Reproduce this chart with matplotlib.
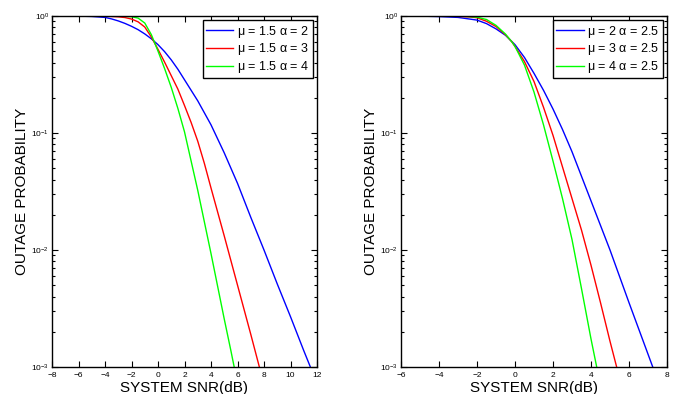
import numpy as np
import matplotlib
matplotlib.use("Agg")
import matplotlib.pyplot as plt
from matplotlib.ticker import LogLocator, FixedLocator

plt.rcParams['font.family'] = ['Liberation Sans', 'DejaVu Sans']
plt.rcParams['mathtext.fontset'] = 'custom'
plt.rcParams['mathtext.rm'] = 'Liberation Sans'

# ---------------- Left panel data (mu = 1.5, alpha varies) ----------------
# values given as -log10(outage probability)
left_x_blue = [-8, -6, -5, -4, -3.5, -3, -2.5, -2, -1.5, -1, -0.5, 0, 0.5, 1, 1.5, 2,
               3, 4, 5, 6, 7, 8, 9, 10, 11, 11.5]
left_dec_blue = [0.0, 0.001, 0.004, 0.012, 0.025, 0.042, 0.063, 0.088, 0.117, 0.153,
                 0.195, 0.245, 0.305, 0.375, 0.455, 0.545, 0.725, 0.93, 1.17, 1.43, 1.72,
                 2.0, 2.29, 2.57, 2.86, 3.0]
left_x_red = [-8, -6, -5, -4, -3.5, -3, -2.5, -2, -1.5, -1, -0.5, 0, 0.5, 1, 1.5, 2, 2.5,
              3, 3.5, 4, 5, 6, 7, 7.65]
left_dec_red = [0.0, 0.0, 0.0005, 0.002, 0.004, 0.007, 0.013, 0.026, 0.05, 0.094, 0.18,
                0.285, 0.395, 0.51, 0.625, 0.765, 0.91, 1.07, 1.26, 1.47, 1.88, 2.30,
                2.72, 3.0]
left_x_green = [-8, -5, -4, -3, -2.5, -2, -1.5, -1, -0.5, 0, 0.5, 1, 1.5, 2, 2.5, 3, 3.5,
                4, 4.5, 5, 5.5, 5.75]
left_dec_green = [0.0, 0.0, 0.0002, 0.001, 0.003, 0.006, 0.018, 0.06, 0.16, 0.30, 0.45,
                  0.61, 0.79, 0.99, 1.24, 1.49, 1.76, 2.03, 2.31, 2.59, 2.86, 3.0]
left_labels = [r'$\mathregular{\mu}$ = 1.5 $\mathregular{\alpha}$ = 2',
               r'$\mathregular{\mu}$ = 1.5 $\mathregular{\alpha}$ = 3',
               r'$\mathregular{\mu}$ = 1.5 $\mathregular{\alpha}$ = 4']
left_xticks = [-8, -6, -4, -2, 0, 2, 4, 6, 8, 10, 12]

# ---------------- Right panel data (alpha = 2.5, mu varies) ----------------
right_x_blue = [-6, -5, -4, -3, -2, -1.5, -1, -0.5, 0, 0.5, 1, 1.5, 2, 2.5, 3, 3.5, 4,
                4.5, 5, 6, 7, 7.25]
right_dec_blue = [0.0, 0.001, 0.005, 0.012, 0.035, 0.065, 0.11, 0.165, 0.245, 0.355, 0.49,
                  0.635, 0.795, 0.97, 1.16, 1.37, 1.58, 1.79, 2.0, 2.45, 2.89, 3.0]
right_x_red = [-6, -4, -3, -2.37, -2, -1.5, -1, -0.5, -0.17, 0, 0.5, 1, 1.5, 2, 2.5, 3,
               3.5, 4, 4.5, 5, 5.35]
right_dec_red = [0.0, 0.001, 0.003, 0.008, 0.015, 0.045, 0.09, 0.16, 0.22, 0.26, 0.39,
                 0.56, 0.78, 1.02, 1.29, 1.56, 1.83, 2.13, 2.45, 2.78, 3.0]
right_x_green = [-6, -4, -3, -2.5, -2, -1.5, -1, -0.5, -0.17, 0, 0.5, 1, 1.5, 2, 2.5, 3,
                 3.5, 4, 4.3]
right_dec_green = [0.0, 0.0005, 0.002, 0.004, 0.01, 0.03, 0.08, 0.155, 0.22, 0.26, 0.42,
                   0.65, 0.93, 1.24, 1.56, 1.91, 2.33, 2.76, 3.0]
right_labels = [r'$\mathregular{\mu}$ = 2 $\mathregular{\alpha}$ = 2.5',
                r'$\mathregular{\mu}$ = 3 $\mathregular{\alpha}$ = 2.5',
                r'$\mathregular{\mu}$ = 4 $\mathregular{\alpha}$ = 2.5']
right_xticks = [-6, -4, -2, 0, 2, 4, 6, 8]

colors = ['#0000ff', '#ff0000', '#00ff00']

fig = plt.figure(figsize=(6.78, 3.94), dpi=100)
ax1 = fig.add_axes([52/678, 27/394, 265/678, 351/394])
ax2 = fig.add_axes([401/678, 27/394, 266/678, 351/394])


def draw(ax, series, labels, xticks):
    for (x, d), c, lab in zip(series, colors, labels):
        ax.semilogy(x, 10.0 ** (-np.array(d)), color=c, lw=1.0, label=lab)
    ax.set_xlim(xticks[0], xticks[-1])
    ax.set_ylim(1e-3, 1)
    ax.set_xticks(xticks)
    ax.set_xticklabels([str(t).replace('-', '\u2212') for t in xticks])
    ax.yaxis.set_major_locator(FixedLocator([1e-3, 1e-2, 1e-1, 1]))
    ax.yaxis.set_minor_locator(LogLocator(base=10, subs=np.arange(2, 10), numticks=20))
    ax.tick_params(which='both', direction='in', top=True, right=True, labelsize=6,
                   width=0.8)
    ax.tick_params(axis='x', pad=3.5)
    ax.tick_params(axis='y', pad=2)
    ax.tick_params(which='major', length=4)
    ax.tick_params(which='minor', length=2)
    for s in ax.spines.values():
        s.set_linewidth(1.0)
    ax.set_xlabel('SYSTEM SNR(dB)', fontsize=11, labelpad=1.5)
    ax.set_ylabel('OUTAGE PROBABILITY', fontsize=11, labelpad=2)
    leg = ax.legend(loc='upper right', fontsize=9, fancybox=False, framealpha=1,
                    edgecolor='black', handlelength=2.2, handletextpad=0.3,
                    borderpad=0.25, labelspacing=0.15, borderaxespad=0.35)
    leg.get_frame().set_linewidth(1.0)


draw(ax1, [(left_x_blue, left_dec_blue), (left_x_red, left_dec_red),
           (left_x_green, left_dec_green)], left_labels, left_xticks)
draw(ax2, [(right_x_blue, right_dec_blue), (right_x_red, right_dec_red),
           (right_x_green, right_dec_green)], right_labels, right_xticks)

fig.savefig('out.png', dpi=100)
